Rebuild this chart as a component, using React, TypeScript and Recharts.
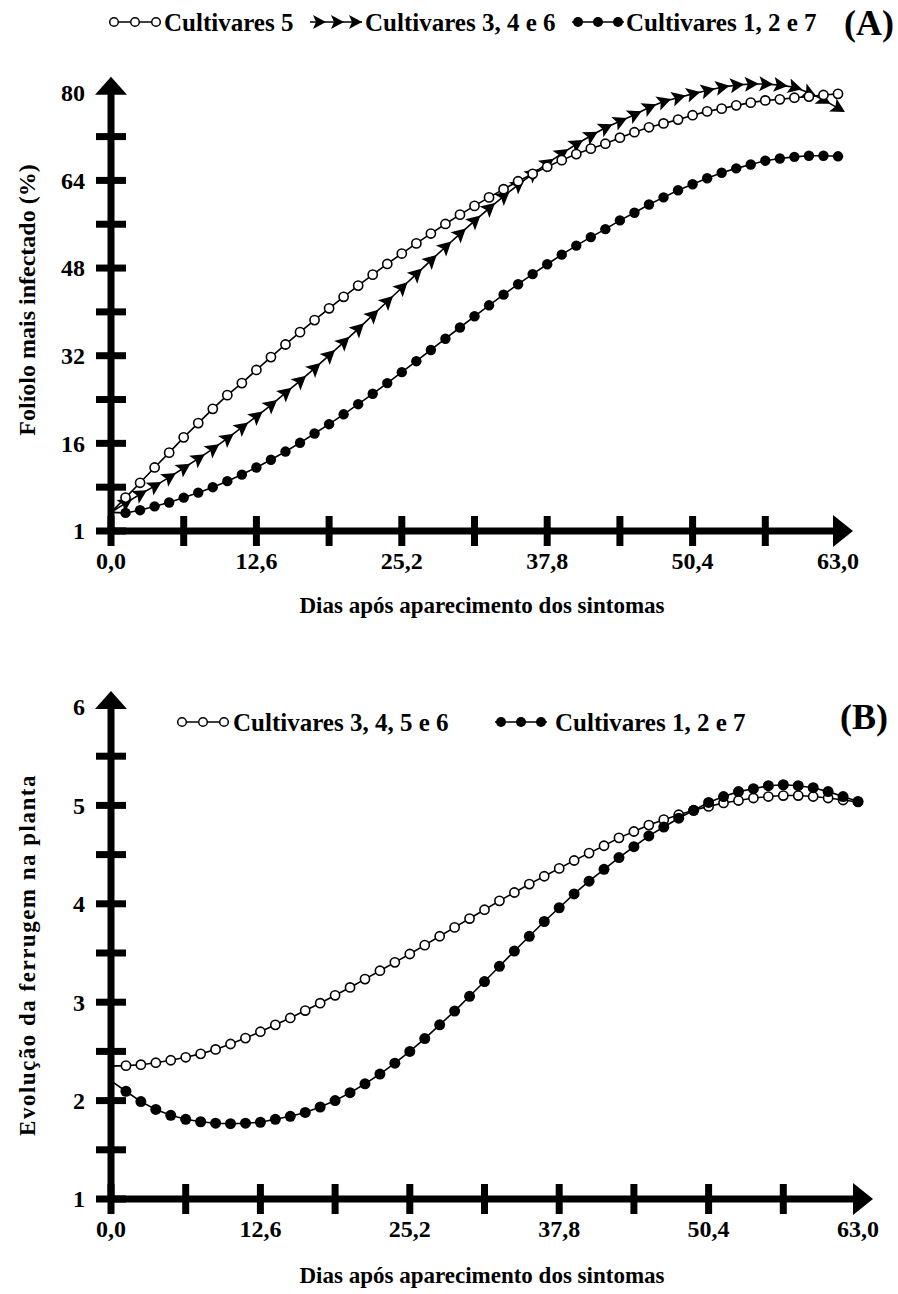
import { LineChart, Line, XAxis, YAxis } from 'recharts';

const days = [
  0, 1.26, 2.52, 3.78, 5.04, 6.3, 7.56, 8.82, 10.08, 11.34, 12.6, 13.86, 15.12, 16.38, 17.64, 18.9, 20.16,
  21.42, 22.68, 23.94, 25.2, 26.46, 27.72, 28.98, 30.24, 31.5, 32.76, 34.02, 35.28, 36.54, 37.8, 39.06,
  40.32, 41.58, 42.84, 44.1, 45.36, 46.62, 47.88, 49.14, 50.4, 51.66, 52.92, 54.18, 55.44, 56.7, 57.96,
  59.22, 60.48, 61.74, 63,
];

const xTicks = [0, 6.3, 12.6, 18.9, 25.2, 31.5, 37.8, 44.1, 50.4, 56.7, 63];
const xLabels = ['0,0', '', '12,6', '', '25,2', '', '37,8', '', '50,4', '', '63,0'];
const yTicksA = [0, 8, 16, 24, 32, 40, 48, 56, 64, 72, 80];
const yLabelsA = ['1', '', '16', '', '32', '', '48', '', '64', '', '80'];
const yTicksB = [1, 1.5, 2, 2.5, 3, 3.5, 4, 4.5, 5, 5.5, 6];
const yLabelsB = ['1', '', '2', '', '3', '', '4', '', '5', '', '6'];

// (A) Folíolo mais infectado (%)
const cult5 = [
  3.4, 6.1, 8.8, 11.6, 14.3, 17.1, 19.7, 22.3, 24.8, 27.0, 29.4, 31.75, 34.05, 36.3, 38.5, 40.65, 42.75,
  44.8, 46.8, 48.75, 50.65, 52.5, 54.3, 56.05, 57.75, 59.35, 60.9, 62.4, 63.85, 65.2, 66.5, 67.7, 68.8,
  69.8, 70.7, 71.8, 72.8, 73.7, 74.4, 75.1, 75.9, 76.6, 77.1, 77.7, 78.2, 78.6, 78.8, 79.1, 79.3, 79.6, 79.8,
];
const cult346 = [
  3.4, 5.1, 6.7, 8.2, 9.8, 11.5, 13.2, 15.0, 16.9, 18.9, 20.9, 23.0, 25.2, 27.4, 29.7, 32.05, 34.45,
  36.9, 39.4, 41.9, 44.4, 46.9, 49.4, 51.85, 54.25, 56.6, 58.9, 61.1, 63.2, 65.2, 67.1, 68.9, 70.6,
  72.15, 73.6, 74.8, 76.0, 77.3, 78.4, 79.1, 79.8, 80.4, 81.0, 81.4, 81.6, 81.6, 81.4, 81.0, 80.0, 78.7, 77.2,
];
const cult127A = [
  3.4, 3.3, 3.8, 4.5, 5.2, 6.1, 7.0, 8.0, 9.1, 10.3, 11.6, 13.0, 14.5, 16.1, 17.8, 19.5, 21.3,
  23.15, 25.05, 27.0, 29.0, 31.0, 33.05, 35.1, 37.15, 39.2, 41.2, 43.15, 45.05, 46.9, 48.7, 50.45, 52.1,
  53.65, 55.1, 56.7, 58.1, 59.6, 60.9, 62.2, 63.3, 64.4, 65.4, 66.2, 66.9, 67.6, 68.0, 68.3, 68.5, 68.5, 68.4,
];

// (B) Evolução da ferrugem na planta
const cult3456 = [
  2.35, 2.355, 2.365, 2.385, 2.41, 2.44, 2.475, 2.52, 2.575, 2.635, 2.7, 2.77, 2.84, 2.915, 2.99, 3.07, 3.15,
  3.235, 3.32, 3.405, 3.49, 3.58, 3.67, 3.76, 3.85, 3.94, 4.03, 4.115, 4.2, 4.28, 4.36, 4.44, 4.515,
  4.59, 4.67, 4.735, 4.8, 4.855, 4.905, 4.95, 4.99, 5.025, 5.05, 5.075, 5.09, 5.1, 5.1, 5.09, 5.075, 5.055, 5.035,
];
const cult127B = [
  2.2, 2.095, 1.99, 1.91, 1.85, 1.81, 1.785, 1.77, 1.765, 1.77, 1.78, 1.81, 1.84, 1.88, 1.935, 2.0, 2.08,
  2.17, 2.27, 2.38, 2.5, 2.63, 2.77, 2.91, 3.06, 3.21, 3.365, 3.52, 3.67, 3.82, 3.96, 4.1, 4.23,
  4.35, 4.47, 4.58, 4.69, 4.78, 4.87, 4.95, 5.03, 5.09, 5.14, 5.17, 5.2, 5.21, 5.2, 5.18, 5.14, 5.09, 5.04,
];

const dataA = days.map((d, i) => ({ d, c5: cult5[i], c346: cult346[i], c127: cult127A[i] }));
const dataB = days.map((d, i) => ({ d, c3456: cult3456[i], c127: cult127B[i] }));

const FONT = "'Liberation Serif', 'Times New Roman', serif";
const W = 898;

function makeXTick() {
  return (p: any) => {
    const { x, y, payload } = p;
    const i = xTicks.indexOf(payload.value);
    const last = i === xTicks.length - 1;
    return (
      <g>
        {last ? (
          <polygon points={`${x - 5},${y - 16} ${x + 15},${y} ${x - 5},${y + 16}`} fill="#000" />
        ) : (
          <line x1={x} x2={x} y1={y - 15} y2={y + 15} stroke="#000" strokeWidth={7} />
        )}
        <text x={x} y={y + 38} textAnchor="middle" fontFamily={FONT} fontWeight="bold" fontSize={24} fill="#000">
          {xLabels[i]}
        </text>
      </g>
    );
  };
}

function makeYTick(ticks: number[], labels: string[]) {
  return (p: any) => {
    const { x, y, payload } = p;
    const i = ticks.indexOf(payload.value);
    const top = i === ticks.length - 1;
    return (
      <g>
        {top ? (
          <polygon points={`${x - 16},${y + 2} ${x},${y - 16} ${x + 16},${y + 2}`} fill="#000" />
        ) : (
          <line x1={x - 15} x2={x + 15} y1={y} y2={y} stroke="#000" strokeWidth={7} />
        )}
        <text x={x - 26} y={y} dy="0.35em" textAnchor="end" fontFamily={FONT} fontWeight="bold" fontSize={24} fill="#000">
          {labels[i]}
        </text>
      </g>
    );
  };
}

const openDot = (r: number) => (p: any) =>
  p.index === 0 ? <g key={`o${p.index}`} /> : (
    <circle key={`o${p.index}`} cx={p.cx} cy={p.cy} r={r} fill="#fff" stroke="#000" strokeWidth={1.6} />
  );

const filledDot = (r: number) => (p: any) =>
  p.index === 0 ? <g key={`f${p.index}`} /> : <circle key={`f${p.index}`} cx={p.cx} cy={p.cy} r={r} fill="#000" />;

// arrowhead markers follow the direction of the curve
const sxA = 727 / 63;
const syA = 447 / 80;
const triDot = (p: any) => {
  const i = p.index;
  if (i === 0) return <g key={`t${i}`} />;
  const a = Math.max(0, i - 1);
  const b = Math.min(days.length - 1, i + 1);
  const dx = (days[b] - days[a]) * sxA;
  const dy = -(cult346[b] - cult346[a]) * syA;
  const ang = (Math.atan2(dy, dx) * 180) / Math.PI;
  return (
    <polygon
      key={`t${i}`}
      points="8,0 -6,-7.5 -3,0 -6,7.5"
      fill="#000"
      transform={`translate(${p.cx},${p.cy}) rotate(${ang})`}
    />
  );
};

const axisLine = { stroke: '#000', strokeWidth: 7 };

function OpenMark({ x, y }: { x: number; y: number }) {
  return (
    <g>
      <line x1={x} x2={x + 52} y1={y} y2={y} stroke="#000" strokeWidth={1.5} />
      {[5, 26, 47].map((o) => (
        <circle key={o} cx={x + o} cy={y} r={4.3} fill="#fff" stroke="#000" strokeWidth={1.5} />
      ))}
    </g>
  );
}
function FilledMark({ x, y }: { x: number; y: number }) {
  return (
    <g>
      <line x1={x} x2={x + 52} y1={y} y2={y} stroke="#000" strokeWidth={1.5} />
      {[6, 26, 46].map((o) => (
        <circle key={o} cx={x + o} cy={y} r={5} fill="#000" />
      ))}
    </g>
  );
}
function TriMark({ x, y }: { x: number; y: number }) {
  return (
    <g>
      <line x1={x} x2={x + 52} y1={y} y2={y} stroke="#000" strokeWidth={1.5} />
      {[9, 27, 45].map((o) => (
        <polygon key={o} points="7,0 -6,-7 -3,0 -6,7" fill="#000" transform={`translate(${x + o},${y})`} />
      ))}
    </g>
  );
}

const txt = { fontFamily: FONT, fontWeight: 'bold' as const, fill: '#000' };

export default function App() {
  return (
    <div style={{ position: 'absolute', left: 0, top: 0, width: W, height: 1294, background: '#fff' }}>
      <div style={{ position: 'absolute', left: 0, top: 0 }}>
        <LineChart width={W} height={640} data={dataA} margin={{ top: 84, right: 60, bottom: 108, left: 110 }}>
          <XAxis
            dataKey="d"
            type="number"
            domain={[0, 63]}
            ticks={xTicks}
            interval={0}
            height={1}
            tickSize={0}
            tickMargin={0}
            axisLine={axisLine}
            tickLine={false}
            tick={makeXTick()}
          />
          <YAxis
            type="number"
            domain={[0, 80]}
            ticks={yTicksA}
            interval={0}
            width={1}
            tickSize={0}
            tickMargin={0}
            axisLine={axisLine}
            tickLine={false}
            tick={makeYTick(yTicksA, yLabelsA)}
          />
          <Line dataKey="c346" type="linear" stroke="#000" strokeWidth={1.6} dot={triDot} isAnimationActive={false} />
          <Line dataKey="c5" type="linear" stroke="#000" strokeWidth={1.6} dot={openDot(4.6)} isAnimationActive={false} />
          <Line dataKey="c127" type="linear" stroke="#000" strokeWidth={1.6} dot={filledDot(5.2)} isAnimationActive={false} />
        </LineChart>
      </div>
      <div style={{ position: 'absolute', left: 0, top: 640 }}>
        <LineChart width={W} height={654} data={dataB} margin={{ top: 67, right: 40, bottom: 94, left: 110 }}>
          <XAxis
            dataKey="d"
            type="number"
            domain={[0, 63]}
            ticks={xTicks}
            interval={0}
            height={1}
            tickSize={0}
            tickMargin={0}
            axisLine={axisLine}
            tickLine={false}
            tick={makeXTick()}
          />
          <YAxis
            type="number"
            domain={[1, 6]}
            ticks={yTicksB}
            interval={0}
            width={1}
            tickSize={0}
            tickMargin={0}
            axisLine={axisLine}
            tickLine={false}
            tick={makeYTick(yTicksB, yLabelsB)}
          />
          <Line dataKey="c3456" type="linear" stroke="#000" strokeWidth={1.6} dot={openDot(4.6)} isAnimationActive={false} />
          <Line dataKey="c127" type="linear" stroke="#000" strokeWidth={1.6} dot={filledDot(5.5)} isAnimationActive={false} />
        </LineChart>
      </div>
      <svg width={W} height={1294} style={{ position: 'absolute', left: 0, top: 0, pointerEvents: 'none' }}>
        {/* legend A */}
        <OpenMark x={109} y={22} />
        <text x={164} y={31} fontSize={25} {...txt}>Cultivares 5</text>
        <TriMark x={310} y={22} />
        <text x={365} y={31} fontSize={25} {...txt}>Cultivares 3, 4 e 6</text>
        <FilledMark x={572} y={22} />
        <text x={626} y={31} fontSize={25} {...txt}>Cultivares 1, 2 e 7</text>
        <text x={844} y={35} fontSize={36} {...txt}>(A)</text>
        <text x={482} y={613} fontSize={23} textAnchor="middle" {...txt}>Dias após aparecimento dos sintomas</text>
        <text x={0} y={0} fontSize={24} textAnchor="middle" transform="translate(35,300) rotate(-90)" {...txt}>
          Folíolo mais infectado (%)
        </text>
        {/* legend B */}
        <OpenMark x={177} y={722} />
        <text x={233} y={731} fontSize={25} {...txt}>Cultivares 3, 4, 5 e 6</text>
        <FilledMark x={495} y={722} />
        <text x={555} y={731} fontSize={25} {...txt}>Cultivares 1, 2 e 7</text>
        <text x={840} y={729} fontSize={36} {...txt}>(B)</text>
        <text x={482} y={1283} fontSize={23} textAnchor="middle" {...txt}>Dias após aparecimento dos sintomas</text>
        <text x={0} y={0} fontSize={23} textAnchor="middle" letterSpacing={1.5} transform="translate(35,955) rotate(-90)" {...txt}>
          Evolução da ferrugem na planta
        </text>
      </svg>
    </div>
  );
}
